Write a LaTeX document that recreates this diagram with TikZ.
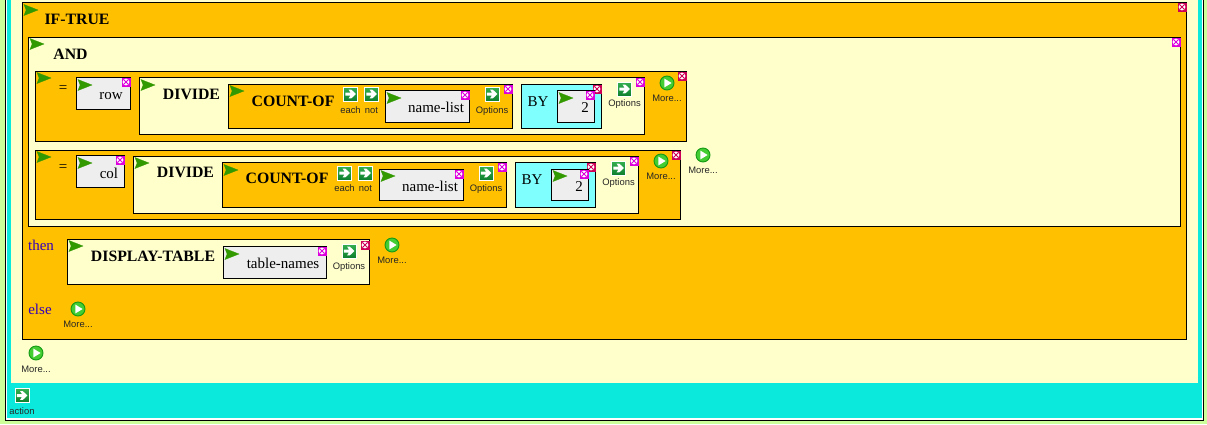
\documentclass[tikz,border=0pt]{standalone}
\usepackage{fontspec}
\setmainfont{Liberation Serif}
\newfontfamily\uifont{Liberation Sans}
\definecolor{bggreen}{HTML}{CCFF99}
\definecolor{panelcyan}{HTML}{0BE9DC}
\definecolor{paleyellow}{HTML}{FFFFCC}
\definecolor{blockorange}{HTML}{FFC000}
\definecolor{bycyan}{HTML}{80FFFF}
\definecolor{slotgray}{HTML}{EEEEEE}
\definecolor{flaggreen}{HTML}{339900}
\definecolor{closemag}{HTML}{DD00DD}
\definecolor{closered}{HTML}{CC0055}
\definecolor{iconhi}{HTML}{35B050}
\definecolor{iconlo}{HTML}{0E7F2E}
\definecolor{keyword}{HTML}{3300BB}
\definecolor{morering}{HTML}{149A14}
\definecolor{morefill}{HTML}{44CC33}
\tikzset{
  blockbox/.style={draw=black,line width=1pt,rectangle,anchor=north west,inner sep=0pt,outer sep=0pt},
  titletext/.style={anchor=base,inner sep=0pt,font=\fontsize{15.8}{16}\selectfont\bfseries},
  slottext/.style={anchor=base,inner sep=0pt,font=\fontsize{15}{15}\selectfont},
  keytext/.style={slottext,text=keyword},
  smalltext/.style={anchor=base,inner sep=0pt,font=\fontsize{9.4}{10}\selectfont\uifont,text=black!85},
  flagshape/.style={fill=flaggreen,draw=flaggreen,line width=0.3pt,line join=miter},
  closeicon/.style={rectangle,inner sep=0pt,outer sep=0pt,minimum size=9pt,fill=#1,
    path picture={
      \begin{scope}[shift={(path picture bounding box.center)}]
        \fill[white] (0,0) circle (3.4pt);
        \draw[#1,line width=0.9pt] (-2.4,-2.4) -- (2.4,2.4) (-2.4,2.4) -- (2.4,-2.4);
      \end{scope}}},
  arrowicon/.style={rectangle,inner sep=0pt,outer sep=0pt,minimum size=14pt,draw=white,line width=0.8pt,
    top color=iconhi,bottom color=iconlo,
    path picture={
      \begin{scope}[shift={(path picture bounding box.center)}]
        \fill[white] (-5.2,-1.5) -- (0,-1.5) -- (-2,-4.4) -- (0.8,-4.4) -- (5.4,0) -- (0.8,4.4) -- (-2,4.4) -- (0,1.5) -- (-5.2,1.5) -- cycle;
      \end{scope}}},
  moreicon/.style={circle,inner sep=0pt,outer sep=0pt,minimum size=14pt,fill=morefill,draw=morering,line width=0.9pt,
    path picture={
      \begin{scope}[shift={(path picture bounding box.center)}]
        \fill[white] (-2.6,-4.4) -- (4.6,0) -- (-2.6,4.4) -- cycle;
      \end{scope}}}
}
% name, x0, y0, x1, y1, fill
\newcommand{\blk}[6]{\node[blockbox,fill=#6,minimum width={#4-#2},minimum height={#5-#3}] (#1) at (#2,#3) {};}
% block flag at the top-left corner
\newcommand{\flagat}[2]{\path[flagshape] (#1+1.5,#2+2) -- (#1+15.5,#2+7.5) -- (#1+1.5,#2+13) -- (#1+3.6,#2+7.5) -- cycle;}
\newcommand{\lab}[5]{\node[#2] (#1) at (#3,#4) {#5};}
\newcommand{\cls}[4]{\node[closeicon=#4] (#1) at (#2,#3) {};}
\newcommand{\arw}[6]{\node[arrowicon] (#1) at (#3,#4) {};\node[smalltext] (#1lab) at (#3,#5) {#6};}
\newcommand{\mor}[4]{\node[moreicon] (#1) at (#2,#3) {};\node[smalltext] (#1lab) at (#2,#4) {More...};}
\begin{document}
\begin{tikzpicture}[x=1pt,y=-1pt]
\useasboundingbox (0,0) rectangle (1207,424);
\fill[bggreen] (0,0) rectangle (1207,424);
% frame
\node[rectangle,draw=black,line width=1pt,fill=white,anchor=north west,inner sep=0pt,outer sep=0pt,minimum width=1198pt,minimum height=430pt] (frame) at (5.5,-10) {};
\fill[panelcyan] (7,-5) rectangle (1202,418);
\fill[paleyellow] (11,-5) rectangle (1198,383);
% IF-TRUE
\blk{iftrue}{22.5}{2.5}{1186.5}{339.5}{blockorange}
\flagat{22.5}{2.5}
\lab{iftruet}{titletext}{77}{24}{IF-TRUE}
\cls{iftruec}{1182}{7}{closered}
% AND
\blk{andb}{28.5}{37.5}{1180.5}{226.5}{paleyellow}
\flagat{28.5}{36.5}
\lab{andt}{titletext}{70.5}{59}{AND}
\cls{andc}{1176}{42}{closemag}
% row 1
\blk{eqa}{35.5}{71.5}{686.5}{141.5}{blockorange}
\flagat{35.5}{70.5}
\lab{eqat}{slottext}{63}{92}{=}
\cls{eqac}{682}{76}{closered}
\blk{rowb}{76.5}{77.5}{130.5}{109.5}{slotgray}
\flagat{76.5}{77.5}
\lab{rowt}{slottext}{111}{99}{row}
\cls{rowc}{126}{82}{closemag}
\blk{diva}{139.5}{77.5}{644.5}{134.5}{paleyellow}
\flagat{139.5}{77.5}
\lab{divat}{titletext}{191.5}{99}{DIVIDE}
\cls{divac}{640}{82}{closemag}
\blk{cnta}{228.5}{84.5}{512.5}{128.5}{blockorange}
\flagat{228.5}{83.5}
\lab{cntat}{titletext}{293}{106}{COUNT-OF}
\cls{cntac}{508}{89}{closemag}
\arw{eacha}{}{350.5}{94}{113}{each}
\arw{nota}{}{371.5}{94}{113}{not}
\blk{nla}{385.5}{90.5}{469.5}{122.5}{slotgray}
\flagat{385.5}{90.5}
\lab{nlat}{slottext}{436}{112}{name-list}
\cls{nlac}{465}{95}{closemag}
\arw{opta}{}{492}{94}{113}{Options}
\blk{bya}{521.5}{84.5}{601.5}{128.5}{bycyan}
\lab{byat}{slottext}{538}{106}{BY}
\cls{byac}{597}{89}{closered}
\blk{twoa}{557.5}{90.5}{594.5}{122.5}{slotgray}
\flagat{557.5}{90.5}
\lab{twoat}{slottext}{585}{112}{2}
\cls{twoac}{590}{95}{closemag}
\arw{optb}{}{624.5}{89}{106}{Options}
\mor{morea}{667}{83}{101}
% row 2
\blk{eqb}{35.5}{150.5}{680.5}{219.5}{blockorange}
\flagat{35.5}{149.5}
\lab{eqbt}{slottext}{63}{171}{=}
\cls{eqbc}{676}{155}{closered}
\blk{colb}{76.5}{155.5}{124.5}{187.5}{slotgray}
\flagat{76.5}{155.5}
\lab{colt}{slottext}{109}{178}{col}
\cls{colc}{120}{160}{closemag}
\blk{divb}{133.5}{156.5}{638.5}{213.5}{paleyellow}
\flagat{133.5}{155.5}
\lab{divbt}{titletext}{185.5}{177}{DIVIDE}
\cls{divbc}{634}{161}{closemag}
\blk{cntb}{222.5}{162.5}{506.5}{207.5}{blockorange}
\flagat{222.5}{162.5}
\lab{cntbt}{titletext}{287}{183}{COUNT-OF}
\cls{cntbc}{502}{167}{closemag}
\arw{eachb}{}{344.5}{173}{191}{each}
\arw{notb}{}{365.5}{173}{191}{not}
\blk{nlb}{379.5}{169.5}{463.5}{200.5}{slotgray}
\flagat{379.5}{168.5}
\lab{nlbt}{slottext}{430}{191}{name-list}
\cls{nlbc}{459}{174}{closemag}
\arw{optc}{}{486}{173}{191}{Options}
\blk{byb}{515.5}{162.5}{595.5}{207.5}{bycyan}
\lab{bybt}{slottext}{532}{184}{BY}
\cls{bybc}{591}{167}{closered}
\blk{twob}{551.5}{169.5}{588.5}{200.5}{slotgray}
\flagat{551.5}{168.5}
\lab{twobt}{slottext}{579}{191}{2}
\cls{twobc}{584}{174}{closemag}
\arw{optd}{}{618.5}{168}{185}{Options}
\mor{moreb}{661}{161}{179}
\mor{morec}{703}{155}{173}
% then
\lab{thent}{keytext}{41}{250}{then}
\blk{disp}{67.5}{239.5}{369.5}{284.5}{paleyellow}
\flagat{67.5}{238.5}
\lab{dispt}{titletext}{153}{261}{DISPLAY-TABLE}
\cls{dispc}{365}{245}{closered}
\blk{tnb}{223.5}{246.5}{326.5}{278.5}{slotgray}
\flagat{223.5}{246.5}
\lab{tnt}{slottext}{283}{268}{table-names}
\cls{tnc}{322}{251}{closemag}
\arw{opte}{}{349}{251}{269}{Options}
\mor{mored}{392}{245}{263}
% else
\lab{elset}{keytext}{40}{314}{else}
\mor{moree}{78}{309}{327}
\mor{moref}{36}{353}{372}
% action
\arw{action}{}{22}{395.5}{414}{action}
\end{tikzpicture}
\end{document}
